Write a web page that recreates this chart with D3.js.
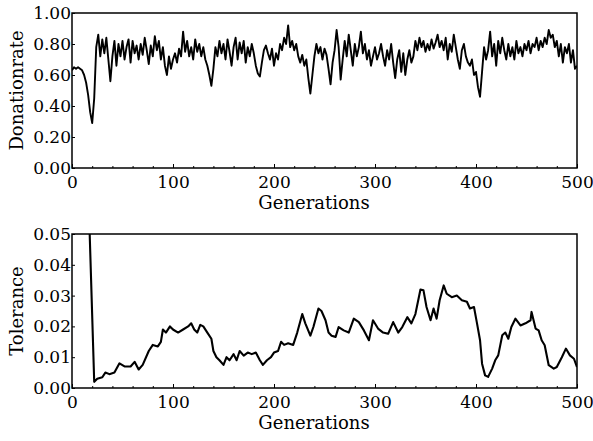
<!DOCTYPE html>
<html>
<head>
<meta charset="utf-8">
<script src="https://cdn.jsdelivr.net/npm/d3@7"></script>
<style>
  body { margin: 0; background: #fff; }
  text { font-family: "DejaVu Serif", serif; fill: #000; }
</style>
</head>
<body>
<svg id="chart" width="593" height="441"></svg>
<script>
// donation rate, one value every 2 generations (0..500)
const donationGen = d3.range(0, 501, 2);
const donationRate = [
  0.63,0.65,0.64,0.65,0.64,0.63,0.60,0.55,0.47,0.36,
  0.29,0.45,0.78,0.86,0.72,0.83,0.74,0.84,0.70,0.56,
  0.72,0.82,0.66,0.80,0.72,0.82,0.70,0.78,0.83,0.68,
  0.82,0.74,0.79,0.70,0.80,0.73,0.84,0.76,0.67,0.79,
  0.72,0.85,0.76,0.82,0.70,0.78,0.66,0.60,0.72,0.64,
  0.70,0.74,0.68,0.77,0.72,0.88,0.75,0.82,0.72,0.78,
  0.70,0.83,0.75,0.80,0.72,0.78,0.70,0.66,0.60,0.53,
  0.64,0.78,0.72,0.82,0.74,0.80,0.70,0.83,0.75,0.66,
  0.78,0.84,0.70,0.81,0.74,0.82,0.68,0.78,0.72,0.80,
  0.74,0.66,0.61,0.59,0.68,0.76,0.79,0.74,0.70,0.77,
  0.66,0.74,0.70,0.80,0.76,0.84,0.80,0.92,0.78,0.82,
  0.76,0.80,0.72,0.68,0.73,0.66,0.70,0.58,0.48,0.60,
  0.72,0.80,0.74,0.78,0.70,0.77,0.73,0.64,0.54,0.68,
  0.76,0.89,0.78,0.57,0.70,0.82,0.72,0.86,0.76,0.66,
  0.80,0.72,0.78,0.88,0.74,0.80,0.70,0.76,0.66,0.72,
  0.78,0.70,0.74,0.80,0.72,0.66,0.76,0.70,0.80,0.68,
  0.58,0.70,0.76,0.62,0.74,0.60,0.70,0.76,0.68,0.72,
  0.82,0.76,0.84,0.78,0.82,0.75,0.80,0.76,0.83,0.77,
  0.81,0.86,0.78,0.82,0.76,0.84,0.70,0.80,0.75,0.86,
  0.78,0.70,0.64,0.76,0.80,0.72,0.68,0.66,0.70,0.60,
  0.62,0.52,0.46,0.62,0.78,0.70,0.76,0.88,0.72,0.80,
  0.66,0.82,0.74,0.84,0.76,0.70,0.80,0.72,0.78,0.70,
  0.82,0.74,0.78,0.72,0.80,0.76,0.82,0.74,0.80,0.78,
  0.84,0.76,0.82,0.78,0.84,0.80,0.89,0.84,0.86,0.78,
  0.82,0.72,0.80,0.68,0.78,0.74,0.80,0.68,0.76,0.64,
  0.66
];

// tolerance, read at irregular generations
const toleranceGen = [
  0,17,22,25,30,33,37,42,47,52,58,62,66,70,76,80,85,88,90,93,97,100,
  105,110,115,118,121,124,127,130,134,138,140,143,146,150,153,156,160,
  163,166,170,174,178,182,186,189,193,197,200,204,207,210,214,219,223,
  228,231,236,239,244,247,251,254,257,261,264,269,274,279,284,289,294,
  298,303,308,313,318,323,327,332,336,340,345,348,351,355,358,361,364,
  368,371,376,381,386,391,394,398,401,404,406,409,412,416,419,422,426,
  429,432,435,439,444,449,454,455,459,462,465,468,472,477,480,485,489,
  493,497,500
];
const tolerance = [
  0.080,0.0555,0.0020,0.0030,0.0035,0.0050,0.0045,0.0050,0.0080,0.0070,
  0.0070,0.0085,0.0060,0.0075,0.0120,0.0140,0.0135,0.0150,0.0190,0.0180,
  0.0200,0.0190,0.0180,0.0190,0.0200,0.0210,0.0190,0.0180,0.0205,0.0200,
  0.0180,0.0160,0.0120,0.0100,0.0090,0.0075,0.0100,0.0090,0.0110,0.0090,
  0.0120,0.0105,0.0115,0.0110,0.0115,0.0090,0.0075,0.0090,0.0100,0.0115,
  0.0120,0.0150,0.0140,0.0145,0.0140,0.0180,0.0240,0.0210,0.0170,0.0198,
  0.0258,0.0250,0.0220,0.0180,0.0170,0.0166,0.0198,0.0187,0.0180,0.0225,
  0.0214,0.0187,0.0155,0.0220,0.0193,0.0180,0.0176,0.0214,0.0180,0.0198,
  0.0230,0.0210,0.0240,0.0320,0.0317,0.0263,0.0220,0.0258,0.0225,0.0285,
  0.0333,0.0306,0.0295,0.0300,0.0285,0.0280,0.0258,0.0263,0.0210,0.0155,
  0.0079,0.0041,0.0036,0.0063,0.0090,0.0106,0.0171,0.0180,0.0160,0.0198,
  0.0225,0.0203,0.0210,0.0220,0.0247,0.0193,0.0187,0.0155,0.0139,0.0074,
  0.0063,0.0068,0.0100,0.0128,0.0106,0.0095,0.0068
];

const genTicks = [0, 100, 200, 300, 400, 500];
const genMinorTicks = d3.range(0, 501, 20);
const donationTicks = [0, 0.2, 0.4, 0.6, 0.8, 1.0];
const toleranceTicks = [0, 0.01, 0.02, 0.03, 0.04, 0.05];

const svg = d3.select("#chart");
const left = 72, right = 577;

function panel(opts) {
  const g = svg.append("g");
  const x = d3.scaleLinear().domain([0, 500]).range([left, right]);
  const y = d3.scaleLinear().domain(opts.domain).range([opts.bottom, opts.top]);

  const clipId = "clip" + opts.top;
  svg.append("clipPath").attr("id", clipId)
    .append("rect")
      .attr("x", left).attr("y", opts.top)
      .attr("width", right - left).attr("height", opts.bottom - opts.top);

  const line = d3.line()
    .x((d, i) => x(opts.gens[i]))
    .y(d => y(d));

  g.append("path")
    .datum(opts.values)
    .attr("clip-path", "url(#" + clipId + ")")
    .attr("fill", "none")
    .attr("stroke", "#000")
    .attr("stroke-width", opts.lw)
    .attr("stroke-linejoin", "round")
    .attr("d", line);

  // minor ticks along bottom
  g.append("g")
    .attr("transform", `translate(0,${opts.bottom})`)
    .call(d3.axisBottom(x).tickValues(genMinorTicks).tickFormat("")
      .tickSizeInner(-2).tickSizeOuter(0))
    .call(a => a.select(".domain").remove());

  g.append("g")
    .attr("transform", `translate(0,${opts.bottom})`)
    .call(d3.axisBottom(x).tickValues(genTicks).tickFormat(d3.format("d"))
      .tickSizeInner(-4).tickSizeOuter(0).tickPadding(8))
    .call(a => a.select(".domain").remove())
    .call(a => a.selectAll("text").attr("font-size", 17).attr("font-family", "DejaVu Serif"));

  g.append("g")
    .attr("transform", `translate(${left},0)`)
    .call(d3.axisLeft(y).tickValues(opts.ticks).tickFormat(d3.format(".2f"))
      .tickSizeInner(-3).tickSizeOuter(0).tickPadding(1))
    .call(a => a.select(".domain").remove())
    .call(a => a.selectAll("text").attr("font-size", 17).attr("font-family", "DejaVu Serif"));

  g.append("rect")
    .attr("x", left).attr("y", opts.top)
    .attr("width", right - left).attr("height", opts.bottom - opts.top)
    .attr("fill", "none").attr("stroke", "#000").attr("stroke-width", 1.5);

  g.append("text")
    .attr("x", 314).attr("y", opts.bottom + 41)
    .attr("text-anchor", "middle").attr("font-size", 18)
    .text("Generations");

  g.append("text")
    .attr("transform", `translate(23,${(opts.top + opts.bottom) / 2}) rotate(-90)`)
    .attr("text-anchor", "middle").attr("font-size", 18)
    .text(opts.label);
}

panel({ top: 13, bottom: 168, domain: [0, 1], ticks: donationTicks,
        gens: donationGen, values: donationRate, label: "Donationrate", lw: 1.9 });
panel({ top: 234, bottom: 388, domain: [0, 0.05], ticks: toleranceTicks,
        gens: toleranceGen, values: tolerance, label: "Tolerance", lw: 2.1 });
</script>
</body>
</html>
